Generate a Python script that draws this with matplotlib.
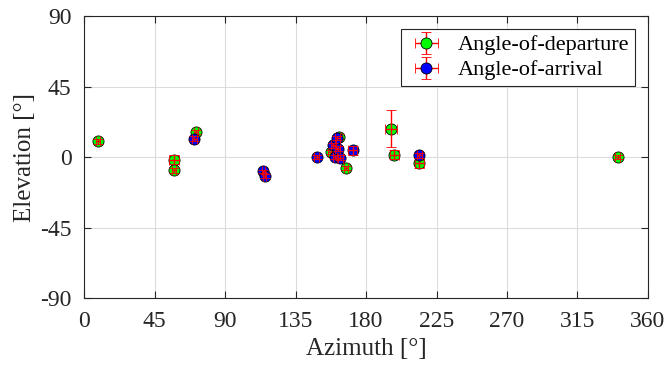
"""Angular spread of the resolved multipath components: AoD vs. AoA."""

import matplotlib
matplotlib.use("Agg")
import matplotlib.pyplot as plt
import numpy as np

# departure angles [deg] with one-sigma uncertainty
aod_az = [8.9, 57.5, 57.5, 71.5, 157.5, 162.5, 167.3, 196.1, 198.0, 214.0, 340.6]
aod_el = [10.0, -1.7, -8.5, 15.9, 3.2, 13.0, -7.0, 18.1, 1.5, -3.8, 0.0]
aod_az_err = [1.5, 3.0, 1.5, 1.5, 1.5, 1.5, 1.5, 3.7, 3.0, 3.0, 1.5]
aod_el_err = [1.5, 3.0, 1.5, 1.5, 1.5, 1.5, 1.5, 11.7, 3.0, 3.0, 1.5]

# arrival angles [deg] with one-sigma uncertainty
aoa_az = [70.4, 114.5, 115.4, 148.6, 159.2, 160.3, 161.8, 162.0, 163.5, 171.4, 214.0]
aoa_el = [11.7, -9.1, -12.1, 0.0, 7.4, 0.0, 12.1, 5.3, -0.4, 4.3, 1.1]
aoa_az_err = [1.5, 1.0, 1.0, 1.5, 1.5, 1.5, 1.5, 1.5, 1.5, 3.0, 1.5]
aoa_el_err = [1.5, 1.0, 1.0, 1.5, 1.5, 1.5, 1.5, 1.5, 1.5, 3.0, 1.5]

AZ_TICKS = np.arange(0, 361, 45)
EL_TICKS = np.arange(-90, 91, 45)

plt.rcParams["font.family"] = ["Liberation Serif", "DejaVu Serif"]
plt.rcParams["axes.unicode_minus"] = False


def add_series(ax, az, el, az_err, el_err, face, label, z):
    cont = ax.errorbar(az, el, xerr=az_err, yerr=el_err, fmt="o", ms=8,
                       mfc=face, mec="k", mew=0.6, ecolor="red",
                       elinewidth=1.0, capsize=3.5, capthick=1.0, label=label)
    # bars drawn over the markers, as in the original MATLAB export
    cont[0].set_zorder(z)
    for a in list(cont[1]) + list(cont[2]):
        a.set_zorder(z + 0.1)


def main():
    fig = plt.figure(figsize=(6.69, 3.69), dpi=100)
    ax = fig.add_axes([0.1256, 0.1924, 0.843, 0.7642])

    add_series(ax, aod_az, aod_el, aod_az_err, aod_el_err, "#00ff00",
               "Angle-of-departure", 3)
    add_series(ax, aoa_az, aoa_el, aoa_az_err, aoa_el_err, "#0000ff",
               "Angle-of-arrival", 4)

    ax.set_xlim(0, 360)
    ax.set_ylim(-90, 90)
    ax.set_xticks(AZ_TICKS)
    ax.set_yticks(EL_TICKS)
    ax.tick_params(direction="in", length=5, width=0.8, labelsize=17, pad=9,
                   colors="#262626", top=True, right=True)
    ax.grid(True, color="#dcdcdc", lw=0.8)
    ax.set_axisbelow(True)
    for s in ax.spines.values():
        s.set_color("#262626")
        s.set_linewidth(0.8)

    ax.set_xlabel("Azimuth [°]", fontsize=18, color="#262626", labelpad=5)
    ax.set_ylabel("Elevation [°]", fontsize=18, color="#262626", labelpad=3)

    leg = ax.legend(loc="upper right", fontsize=16, frameon=True, fancybox=False,
                    edgecolor="#262626", framealpha=1, borderaxespad=0.6,
                    handlelength=1.8, handletextpad=0.5, borderpad=0.25,
                    labelspacing=0.2)
    leg.get_frame().set_linewidth(0.8)
    leg.set_zorder(10)

    fig.savefig("out.png", dpi=100)


if __name__ == "__main__":
    main()
